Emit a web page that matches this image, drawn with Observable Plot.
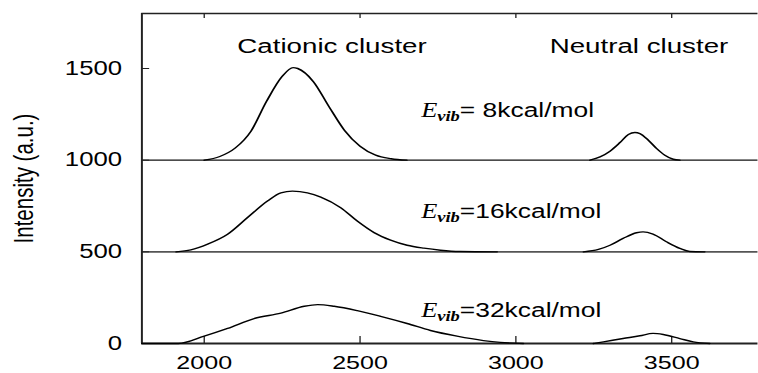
<!DOCTYPE html>
<html><head><meta charset="utf-8">
<script src="https://cdn.jsdelivr.net/npm/d3@7"></script>
<script src="https://cdn.jsdelivr.net/npm/@observablehq/plot@0.6"></script>
<style>
html,body{margin:0;padding:0;background:#fff;overflow:hidden;}
#chart svg{transform:scaleX(1.32);transform-origin:0 0;display:block;}
</style></head><body><div id="chart"></div>
<script>
// ---- data ----
const xTicks = [2000, 2500, 3000, 3500];
const yTicks = [0, 500, 1000, 1500];
const offsets = [1000, 500, 0];
const energies = [8, 16, 32];
const yLabel = "Intensity (a.u.)";
const clusterNames = ["Cationic cluster", "Neutral cluster"];
const clusterX = [2410, 3395];
const clusterY = 1620;
const evibX = 2696;
const evibY = [1268, 717, 178];

// E_vib = 8 kcal/mol (offset 1000)
const cat8X = [2000, 2050, 2100, 2150, 2200, 2250, 2285, 2300, 2350, 2400, 2450, 2500, 2550, 2600, 2650];
const cat8Y = [0, 20, 67, 158, 321, 457, 505, 500, 429, 293, 163, 76, 27, 8, 0];
const neu8X = [3238, 3270, 3302, 3334, 3361, 3382, 3398, 3425, 3452, 3478, 3505, 3526];
const neu8Y = [0, 18, 49, 96, 140, 151, 145, 109, 63, 27, 5, 0];
// E_vib = 16 kcal/mol (offset 500)
const cat16X = [1910, 1957, 2011, 2075, 2139, 2203, 2246, 2283, 2331, 2374, 2438, 2491, 2545, 2598, 2651, 2705, 2758, 2820, 2940];
const cat16Y = [0, 11, 42, 96, 187, 277, 322, 331, 322, 299, 241, 168, 105, 64, 36, 20, 9, 2, 0];
const neu16X = [3217, 3265, 3302, 3344, 3387, 3408, 3440, 3483, 3526, 3558, 3606];
const neu16Y = [0, 13, 36, 73, 104, 109, 97, 55, 19, 2, 0];
// E_vib = 32 kcal/mol (offset 0)
const cat32X = [1800, 1917, 2000, 2075, 2160, 2246, 2321, 2364, 2417, 2491, 2566, 2651, 2726, 2811, 2896, 2950, 3024];
const cat32Y = [0, 0, 40, 82, 136, 166, 203, 212, 203, 179, 148, 109, 71, 40, 16, 6, 0];
const neu32X = [3249, 3281, 3344, 3398, 3440, 3473, 3526, 3569, 3622];
const neu32Y = [0, 9, 27, 42, 55, 49, 27, 9, 0];

const series = [
  [cat8X, cat8Y, 0], [neu8X, neu8Y, 0],
  [cat16X, cat16Y, 1], [neu16X, neu16Y, 1],
  [cat32X, cat32Y, 2], [neu32X, neu32Y, 2]
];
const lineData = series.flatMap(([xs, ys, k], s) =>
  xs.map((x, i) => ({x, y: offsets[k] + ys[i], id: s})));

const W = 574, H = 373, ML = 107, MR = 0, MT = 13, MB = 30;
const frameW = W - ML - MR, frameH = H - MT - MB;

const chart = Plot.plot({
  width: W, height: H,
  marginLeft: ML, marginRight: MR, marginTop: MT, marginBottom: MB,
  x: {domain: [1800, 3778]},
  y: {domain: [0, 1800]},
  style: {fontFamily: "'Liberation Sans', Arial, sans-serif", fontSize: "20px", background: "white", color: "#000"},
  marks: [
    Plot.ruleY([offsets[0]], {stroke: "#111", strokeWidth: 1.2}),
    Plot.ruleY([offsets[1]], {stroke: "#555", strokeWidth: 1.8}),
    Plot.ruleY([0], {stroke: "#222", strokeWidth: 1.8}),
    Plot.ruleY([1800], {stroke: "#222", strokeWidth: 1.3}),
    Plot.ruleX([1800], {stroke: "#222", strokeWidth: 1.5}),
    // inward ticks
    Plot.ruleX(xTicks, {insetTop: frameH - 7, stroke: "#222", strokeWidth: 1}),
    Plot.ruleX(xTicks, {insetBottom: frameH - 5, stroke: "#222", strokeWidth: 1}),
    Plot.ruleY(yTicks, {insetRight: frameW - 6, stroke: "#222", strokeWidth: 1}),
    Plot.line(lineData, {x: "x", y: "y", z: "id", curve: "monotone-x", stroke: "#000", strokeWidth: 1.4}),
    Plot.axisX(xTicks, {anchor: "bottom", tickSize: 0, tickPadding: 12, label: null, fontSize: 19, tickFormat: d => String(d)}),
    Plot.axisY(yTicks, {anchor: "left", tickSize: 0, tickPadding: 15, label: null, fontSize: 19.5, tickFormat: d => String(d)}),
    Plot.text([yLabel], {frameAnchor: "left", textAnchor: "middle", lineAnchor: "middle", dx: -89, rotate: -90, text: d => d, fontSize: 20.5, fill: "#000"}),
    Plot.text(clusterNames, {x: (d, i) => clusterX[i], y: clusterY, text: d => d, fontSize: 21, fill: "#000"}),
    Plot.text(energies, {x: evibX, y: (d, i) => evibY[i], text: d => "Evib" + (d < 10 ? "= " : "=") + d + "kcal/mol", textAnchor: "start", fontSize: 20, fill: "#000"})
  ]
});

// Rich text for E_vib labels (italic serif E with bold italic subscript)
const NS = "http://www.w3.org/2000/svg";
chart.querySelectorAll("text").forEach(t => {
  const s = t.textContent;
  if (s.startsWith("Evib")) {
    const rest = s.slice(4);
    t.textContent = "";
    const mk = (txt, attrs) => {
      const ts = document.createElementNS(NS, "tspan");
      ts.textContent = txt;
      for (const k in attrs) ts.setAttribute(k, attrs[k]);
      t.appendChild(ts);
    };
    mk("E", {"font-family": "'Liberation Serif', 'Times New Roman', serif", "font-style": "italic", "font-size": 20});
    mk("vib", {"font-family": "'Liberation Serif', 'Times New Roman', serif", "font-style": "italic", "font-weight": "bold", "font-size": 14, "dy": 4});
    mk(rest, {"dy": -4});
  }
});
document.getElementById("chart").appendChild(chart);
</script></body></html>
